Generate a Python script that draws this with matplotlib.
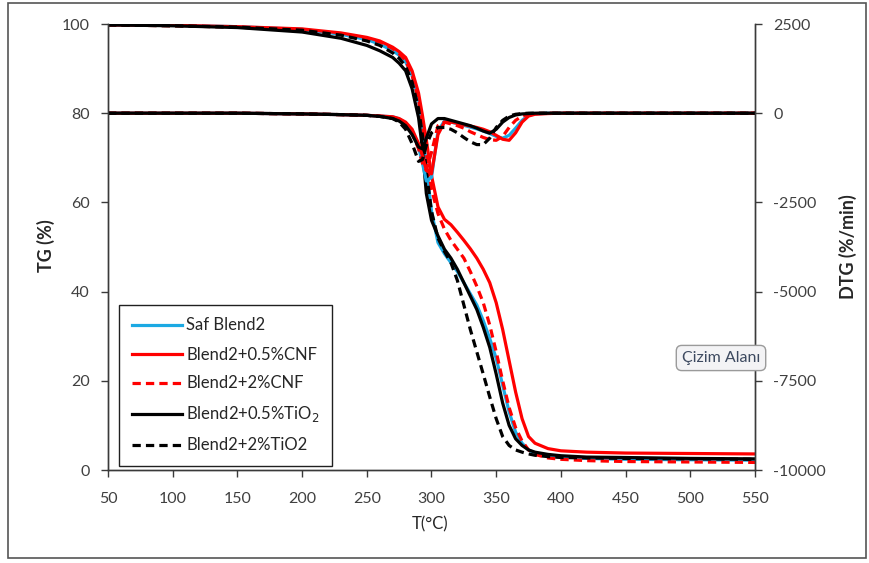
import matplotlib

matplotlib.use("Agg")
import matplotlib.pyplot as plt
from matplotlib.patches import Rectangle

plt.rcParams["font.family"] = ["Lato", "DejaVu Sans"]
plt.rcParams["axes.unicode_minus"] = False

# temperature grid (degC) shared by all curves
temp = [50, 100, 150, 200, 230, 250, 260, 270, 275, 280, 285, 290, 293, 296, 300,
        305, 310, 315, 320, 325, 330, 335, 340, 345, 350, 355, 360, 365, 370, 375,
        380, 390, 400, 420, 450, 500, 550]

# TG (%)
tg_saf = [99.8, 99.7, 99.4, 98.8, 97.7, 96.5, 95.5, 94.0, 93.0, 91.5, 88.5, 83.0, 77.0, 68.0, 58.0,
          51.0, 48.5, 46.5, 44.5, 42.0, 39.5, 37.0, 33.5, 29.5, 25.0, 19.0, 13.0, 8.5, 6.0, 4.5,
          3.8, 3.2, 3.0, 2.6, 2.4, 2.3, 2.2]
tg_cnf05 = [99.8, 99.7, 99.4, 98.9, 98.0, 97.0, 96.2, 94.8, 93.8, 92.5, 89.5, 84.5, 79.5, 74.0, 66.0,
            59.0, 56.2, 55.0, 53.3, 51.5, 49.6, 47.5, 45.0, 42.0, 37.5, 31.5, 24.5, 17.5, 11.5, 7.5,
            6.0, 4.8, 4.3, 4.0, 3.8, 3.7, 3.6]
tg_cnf2 = [99.8, 99.6, 99.3, 98.7, 97.8, 96.8, 96.0, 94.5, 93.3, 91.8, 88.5, 83.0, 77.5, 71.0, 63.0,
           57.5, 54.0, 51.5, 49.5, 47.5, 44.5, 41.2, 37.5, 32.5, 26.5, 20.0, 14.0, 9.5, 6.5, 4.5,
           3.5, 2.7, 2.4, 2.1, 1.9, 1.8, 1.7]
tg_tio05 = [99.8, 99.6, 99.2, 98.2, 96.8, 95.2, 94.0, 92.5, 91.2, 89.5, 85.5, 79.0, 72.0, 62.0, 56.0,
            52.5, 49.5, 47.5, 45.0, 42.0, 39.0, 36.0, 32.0, 27.5, 21.5, 15.0, 10.0, 7.0, 5.5, 4.5,
            4.0, 3.5, 3.2, 2.9, 2.8, 2.6, 2.5]
tg_tio2 = [99.8, 99.6, 99.3, 98.6, 97.5, 96.2, 95.2, 93.5, 92.3, 90.5, 87.0, 81.0, 75.0, 67.0, 58.0,
           52.0, 49.0, 46.5, 42.5, 37.0, 31.5, 26.5, 21.5, 16.4, 11.5, 7.5, 5.5, 4.5, 4.0, 3.6,
           3.3, 3.0, 2.8, 2.7, 2.6, 2.5, 2.4]

# DTG (%/min)
dtg_saf = [0, 0, 0, -20, -40, -60, -80, -100, -160, -280, -500, -950, -1400, -1900, -1800,
           -500, -220, -250, -290, -340, -390, -440, -500, -570, -650, -700, -620, -420, -200, -60,
           -20, 0, 0, 0, 0, 0, 0]
dtg_cnf05 = [0, 0, 0, -20, -40, -60, -80, -100, -150, -250, -450, -850, -1200, -1600, -1700,
             -600, -250, -250, -280, -320, -360, -400, -450, -520, -620, -730, -760, -550, -250, -80,
             -30, -10, 0, 0, 0, 0, 0]
dtg_cnf2 = [0, 0, 0, -20, -40, -60, -80, -120, -180, -300, -550, -1000, -1400, -1600, -1100,
            -350, -250, -300, -350, -420, -520, -600, -680, -740, -760, -650, -400, -200, -80, -30,
            -10, 0, 0, 0, 0, 0, 0]
dtg_tio05 = [0, 0, 0, -20, -40, -60, -90, -150, -220, -350, -600, -950, -1000, -700, -300,
             -150, -150, -200, -250, -300, -350, -420, -500, -560, -450, -250, -120, -50, -20, -10,
             0, 0, 0, 0, 0, 0, 0]
dtg_tio2 = [0, 0, 0, -20, -40, -60, -90, -150, -250, -450, -850, -1350, -1300, -900, -550,
            -400, -400, -450, -550, -680, -800, -880, -880, -700, -400, -200, -80, -30, -10, 0,
            0, 0, 0, 0, 0, 0, 0]

labels = ["Saf Blend2", "Blend2+0.5%CNF", "Blend2+2%CNF",
          "Blend2+0.5%TiO$_2$", "Blend2+2%TiO2"]
colors = ["#1BA9E3", "#FF0000", "#FF0000", "#000000", "#000000"]
dashed = [False, False, True, False, True]

tg_all = [tg_saf, tg_cnf05, tg_cnf2, tg_tio05, tg_tio2]
dtg_all = [dtg_saf, dtg_cnf05, dtg_cnf2, dtg_tio05, dtg_tio2]

fig = plt.figure(figsize=(8.7, 5.63), dpi=100)
ax = fig.add_axes([108 / 870, 1 - 470 / 563, 647 / 870, 446 / 563])
ax2 = ax.twinx()

lw = 2.3
handles = []
for tg, dtg, lab, c, d in zip(tg_all, dtg_all, labels, colors, dashed):
    ls = (0, (2.6, 1.6)) if d else "-"
    (h,) = ax.plot(temp, tg, color=c, lw=lw, linestyle=ls, label=lab)
    ax2.plot(temp, dtg, color=c, lw=lw, linestyle=ls)
    handles.append(h)

ax.set_xlim(50, 550)
ax.set_ylim(0, 100)
ax.set_xticks(range(50, 551, 50))
ax.set_yticks(range(0, 101, 20))
ax2.set_ylim(-10000, 2500)
ax2.set_yticks(range(-10000, 2501, 2500))

tick_col = "#404040"
spine_col = "#3a3a3a"
for a in (ax, ax2):
    a.spines["top"].set_visible(False)
    for s in a.spines.values():
        s.set_color(spine_col)
        s.set_linewidth(1.0)
    a.tick_params(direction="out", length=5, width=1, color=spine_col,
                  labelsize=11.5, labelcolor=tick_col)
ax.tick_params(axis="x", pad=11)
ax.tick_params(axis="y", pad=8)
ax2.tick_params(axis="y", pad=8)

fig.text(430 / 870, 1 - 524 / 563, "T(°C)", ha="center", va="center",
         fontsize=12, color="#262626")
fig.text(46 / 870, 1 - 246 / 563, "TG (%)", ha="center", va="center",
         rotation=90, fontsize=13, fontweight="bold", color="#262626")
fig.text(848 / 870, 1 - 247 / 563, "DTG (%/min)", ha="center", va="center",
         rotation=90, fontsize=13, fontweight="bold", color="#262626")

leg = ax.legend(handles=handles, loc="lower left",
                bbox_to_anchor=(11 / 647, 4 / 446), borderaxespad=0,
                fontsize=12, handlelength=3.0, handletextpad=0.3,
                labelspacing=0.78, borderpad=0.75, fancybox=False,
                frameon=True, edgecolor="#202020", framealpha=1)
leg.get_frame().set_linewidth(1.0)
for t in leg.get_texts():
    t.set_color("#262626")

fig.text(721 / 870, 1 - 358 / 563, "Çizim Alanı", ha="center", va="center",
         fontsize=11.5, color="#3d4a60",
         bbox=dict(boxstyle="round,pad=0.35", facecolor="#f3f3f5",
                   edgecolor="#9a9a9a", linewidth=1))

fig.patches.append(Rectangle((8 / 870, 1 - 558 / 563), 858 / 870, 555 / 563,
                             transform=fig.transFigure, fill=False,
                             edgecolor="#555555", linewidth=1.2))

fig.savefig("out.png", dpi=100)
